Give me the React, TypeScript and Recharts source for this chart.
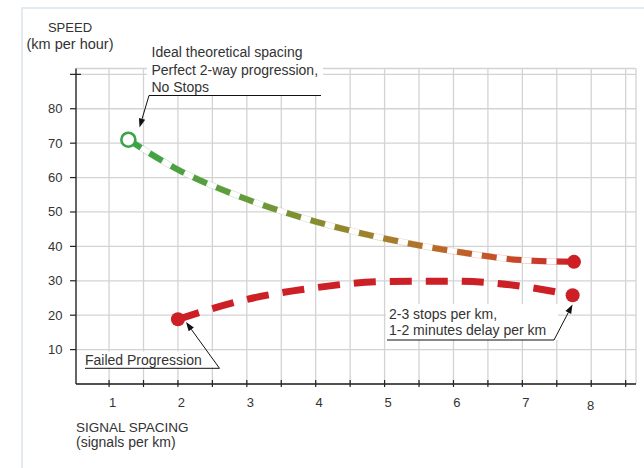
import React from 'react';
import { LineChart, Line, XAxis, YAxis, CartesianGrid, Customized } from 'recharts';

// ---- data ----
const idealSpacing = [1.28, 2, 3, 4, 5, 6, 7, 7.75];
const idealSpeed = [71, 62.3, 53.7, 47.2, 42.3, 38.6, 36, 35.5];
const failedSpacing = [2, 3, 4, 5, 6, 7, 7.73];
const failedSpeed = [18.8, 24.6, 28, 29.8, 29.9, 28.4, 25.8];
const xTicks = [1, 1.5, 2, 2.5, 3, 3.5, 4, 4.5, 5, 5.5, 6, 6.5, 7, 7.5, 8, 8.5];
const yTicks = [10, 20, 30, 40, 50, 60, 70, 80, 90];

const idealData = idealSpacing.map((x, i) => ({ x, speed: idealSpeed[i] }));
const failedData = failedSpacing.map((x, i) => ({ x, speed: failedSpeed[i] }));

const FONT = '"Liberation Sans", Arial, Helvetica, sans-serif';
const TXT = '#333';
const RED = '#cc1f26';

const XTick = (props: any) => {
  const { x, y, payload } = props;
  const v = payload.value;
  const isInt = Number.isInteger(v);
  const last = v === 8;
  return (
    <g>
      <line x1={x} x2={x} y1={y - 4} y2={y + 3} stroke="#222" strokeWidth={1.2} />
      {isInt && (
        <text x={x + (last ? -0.5 : 3.5)} y={y + (last ? 26 : 22.5)} textAnchor="middle" fontSize={13} fill={TXT} fontFamily={FONT}>
          {v}
        </text>
      )}
    </g>
  );
};

const YTick = (props: any) => {
  const { x, y, payload } = props;
  const v = payload.value;
  const top = v === 90;
  return (
    <g>
      <line x1={x - 6} x2={top ? x + 5 : x} y1={y} y2={y} stroke="#222" strokeWidth={1.2} />
      {!top && (
        <text x={x - 13.5} y={y + 4.5} textAnchor="end" fontSize={13} fill={TXT} fontFamily={FONT}>
          {v}
        </text>
      )}
    </g>
  );
};

const idealDot = (props: any) => {
  const { cx, cy, index } = props;
  if (index === 0)
    return <circle key="is" cx={cx} cy={cy} r={7} fill="#fff" stroke="#3aa547" strokeWidth={2.6} />;
  if (index === idealData.length - 1) return <circle key="ie" cx={cx} cy={cy} r={7} fill={RED} />;
  return <g key={`i${index}`} />;
};

const failedDot = (props: any) => {
  const { cx, cy, index } = props;
  if (index === 0 || index === failedData.length - 1)
    return <circle key={`f${index}`} cx={cx} cy={cy} r={7} fill={RED} />;
  return <g key={`f${index}`} />;
};

const Arrow = ({ x1, y1, x2, y2 }: { x1: number; y1: number; x2: number; y2: number }) => {
  const a = Math.atan2(y2 - y1, x2 - x1);
  const L = 9;
  const W = 3.2;
  const bx = x2 - L * Math.cos(a);
  const by = y2 - L * Math.sin(a);
  const px = -Math.sin(a) * W;
  const py = Math.cos(a) * W;
  return (
    <g>
      <line x1={x1} y1={y1} x2={bx} y2={by} stroke="#111" strokeWidth={1} />
      <polygon points={`${x2},${y2} ${bx + px},${by + py} ${bx - px},${by - py}`} fill="#111" />
    </g>
  );
};

const Annotations = () => (
  <g fontFamily={FONT} fill={TXT}>
    {/* axis titles */}
    <text x={70} y={31.5} textAnchor="middle" fontSize={13}>SPEED</text>
    <text x={70} y={49} textAnchor="middle" fontSize={14.5}>(km per hour)</text>
    <text x={76} y={431.5} fontSize={13.5}>SIGNAL SPACING</text>
    <text x={76} y={447} fontSize={14}>(signals per km)</text>

    {/* top annotation */}
    <rect x={147} y={40} width={176} height={55} fill="#fff" />
    <text x={151.5} y={57.3} fontSize={14}>Ideal theoretical spacing</text>
    <text x={151.5} y={74.5} fontSize={14}>Perfect 2-way progression,</text>
    <text x={151.5} y={91.7} fontSize={14}>No Stops</text>
    <line x1={149} y1={95.5} x2={321} y2={95.5} stroke="#111" strokeWidth={1} />
    <Arrow x1={149} y1={95.5} x2={139.5} y2={127.5} />

    {/* failed progression */}
    <rect x={84} y={351.5} width={136} height={16} fill="#fff" />
    <text x={85} y={365} fontSize={14}>Failed Progression</text>
    <line x1={85} y1={368.3} x2={219.5} y2={368.3} stroke="#111" strokeWidth={1} />
    <Arrow x1={219.5} y1={368.3} x2={186} y2={322} />

    {/* stops annotation */}
    <rect x={386} y={304} width={172} height={36} fill="#fff" />
    <text x={389} y={318.5} fontSize={14}>2-3 stops per km,</text>
    <text x={389} y={334.5} fontSize={14}>1-2 minutes delay per km</text>
    <line x1={387} y1={340} x2={554} y2={340} stroke="#111" strokeWidth={1} />
    <Arrow x1={554} y1={340} x2={572.5} y2={304.5} />
  </g>
);

export default function App() {
  return (
    <div style={{ position: 'absolute', left: 0, top: 0, width: 644, height: 468, overflow: 'hidden', background: '#fff' }}>
      <div
        style={{
          position: 'absolute',
          left: 21,
          top: 7,
          width: 700,
          height: 520,
          border: '2.5px solid #e3ebf1',
          boxSizing: 'border-box',
        }}
      />
      <div style={{ position: 'absolute', left: 0, top: 0 }}>
        <LineChart width={644} height={468} margin={{ top: 68.5, right: 8, left: 0, bottom: 54 }}>
          <defs>
            <linearGradient id="gradIdeal" x1="0" y1="0" x2="1" y2="0">
              <stop offset="0" stopColor="#3aa547" />
              <stop offset="0.27" stopColor="#679b3a" />
              <stop offset="0.42" stopColor="#878c30" />
              <stop offset="0.58" stopColor="#a67e2d" />
              <stop offset="0.74" stopColor="#bf622a" />
              <stop offset="0.9" stopColor="#c8412a" />
              <stop offset="1" stopColor="#cc1f26" />
            </linearGradient>
          </defs>
          <CartesianGrid stroke="#d3d3d3" strokeWidth={1.3} />
          <XAxis
            type="number"
            dataKey="x"
            domain={[0.52, 8.65]}
            ticks={xTicks}
            interval={0}
            allowDataOverflow
            tickSize={0}
            tickMargin={0}
            tickLine={false}
            axisLine={{ stroke: '#222', strokeWidth: 1.3 }}
            tick={<XTick />}
            height={30}
          />
          <YAxis
            type="number"
            dataKey="speed"
            domain={[0, 91.7]}
            ticks={yTicks}
            interval={0}
            allowDataOverflow
            tickSize={0}
            tickMargin={0}
            tickLine={false}
            axisLine={{ stroke: '#222', strokeWidth: 1.3 }}
            tick={<YTick />}
            width={76}
          />
          {/* ideal: pale outline + white core + gradient dashes */}
          <Line
            data={idealData}
            dataKey="speed"
            type="monotone"
            stroke="url(#gradIdeal)"
            strokeOpacity={0.3}
            strokeWidth={6.5}
            dot={false}
            activeDot={false}
            isAnimationActive={false}
          />
          <Line
            data={idealData}
            dataKey="speed"
            type="monotone"
            stroke="#ffffff"
            strokeWidth={5.3}
            dot={false}
            activeDot={false}
            isAnimationActive={false}
          />
          <Line
            data={idealData}
            dataKey="speed"
            type="monotone"
            stroke="url(#gradIdeal)"
            strokeWidth={6}
            strokeDasharray="15 10"
            dot={idealDot}
            activeDot={false}
            isAnimationActive={false}
          />
          <Line
            data={failedData}
            dataKey="speed"
            type="monotone"
            stroke={RED}
            strokeWidth={7}
            strokeDasharray="22 14"
            dot={failedDot}
            activeDot={false}
            isAnimationActive={false}
          />
          <Customized component={Annotations} />
        </LineChart>
      </div>
    </div>
  );
}
